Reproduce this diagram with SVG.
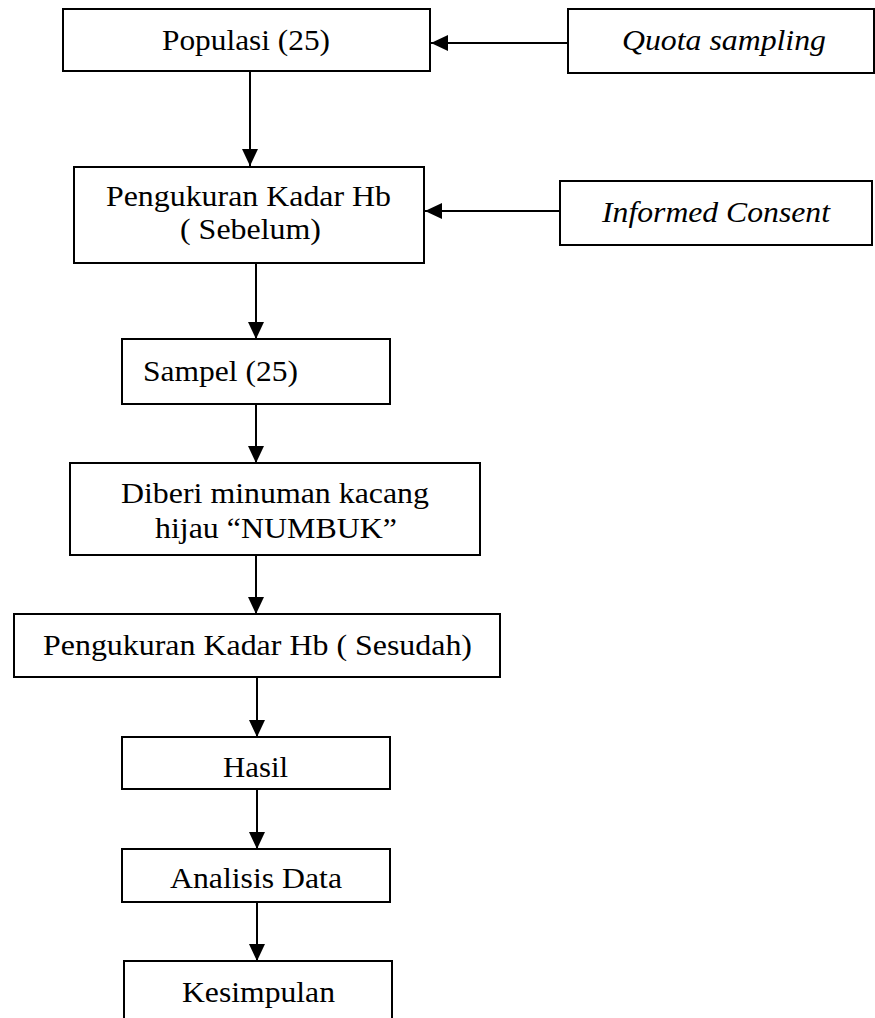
<svg xmlns="http://www.w3.org/2000/svg" width="875" height="1018" viewBox="0 0 875 1018">
<style>
.box{fill:#fff;stroke:#000;stroke-width:2}
.c{stroke:#000;stroke-width:2;fill:none}
.t{font-family:"Liberation Serif",serif;font-size:30px;fill:#000}
.i{font-style:italic}
</style>
<defs>
<marker id="ah" markerUnits="userSpaceOnUse" markerWidth="18" markerHeight="16" refX="17" refY="8" orient="auto">
<path d="M0,0 L17,8 L0,16 Z" fill="#000"/>
</marker>
</defs>
<rect width="875" height="1018" fill="#fff"/>
<g id="connectors">
<line class="c" x1="568" y1="43" x2="431" y2="43" marker-end="url(#ah)"/>
<line class="c" x1="250" y1="71" x2="250" y2="166" marker-end="url(#ah)"/>
<line class="c" x1="560" y1="211" x2="425" y2="211" marker-end="url(#ah)"/>
<line class="c" x1="256" y1="263" x2="256" y2="339" marker-end="url(#ah)"/>
<line class="c" x1="256" y1="404" x2="256" y2="463" marker-end="url(#ah)"/>
<line class="c" x1="256" y1="555" x2="256" y2="614" marker-end="url(#ah)"/>
<line class="c" x1="257" y1="677" x2="257" y2="737" marker-end="url(#ah)"/>
<line class="c" x1="257" y1="789" x2="257" y2="849" marker-end="url(#ah)"/>
<line class="c" x1="257" y1="902" x2="257" y2="961" marker-end="url(#ah)"/>
</g>
<g id="populasi"><rect class="box" x="63" y="9" width="367" height="62"/><text class="t" x="162" y="50" textLength="168" lengthAdjust="spacingAndGlyphs">Populasi (25)</text></g>
<g id="quota"><rect class="box" x="568" y="9" width="306" height="64"/><text class="t i" x="622" y="50" textLength="204" lengthAdjust="spacingAndGlyphs">Quota sampling</text></g>
<g id="pengukuran-sebelum"><rect class="box" x="74" y="167" width="350" height="96"/><text class="t" x="106" y="206" textLength="285" lengthAdjust="spacingAndGlyphs">Pengukuran Kadar Hb</text><text class="t" x="180" y="239" textLength="141" lengthAdjust="spacingAndGlyphs">( Sebelum)</text></g>
<g id="informed"><rect class="box" x="560" y="181" width="312" height="64"/><text class="t i" x="602" y="222" textLength="228" lengthAdjust="spacingAndGlyphs">Informed Consent</text></g>
<g id="sampel"><rect class="box" x="122" y="339" width="268" height="65"/><text class="t" x="143" y="381" textLength="155" lengthAdjust="spacingAndGlyphs">Sampel (25)</text></g>
<g id="diberi"><rect class="box" x="70" y="463" width="410" height="92"/><text class="t" x="121" y="503" textLength="308" lengthAdjust="spacingAndGlyphs">Diberi minuman kacang</text><text class="t" x="155" y="538" textLength="242" lengthAdjust="spacingAndGlyphs">hijau &#8220;NUMBUK&#8221;</text></g>
<g id="pengukuran-sesudah"><rect class="box" x="14" y="614" width="486" height="63"/><text class="t" x="43" y="655" textLength="429" lengthAdjust="spacingAndGlyphs">Pengukuran Kadar Hb ( Sesudah)</text></g>
<g id="hasil"><rect class="box" x="122" y="737" width="268" height="52"/><text class="t" x="223" y="777" textLength="65" lengthAdjust="spacingAndGlyphs">Hasil</text></g>
<g id="analisis"><rect class="box" x="122" y="849" width="268" height="53"/><text class="t" x="170" y="888" textLength="172" lengthAdjust="spacingAndGlyphs">Analisis Data</text></g>
<g id="kesimpulan"><rect class="box" x="124" y="961" width="268" height="80"/><text class="t" x="182" y="1002" textLength="153" lengthAdjust="spacingAndGlyphs">Kesimpulan</text></g>
</svg>
